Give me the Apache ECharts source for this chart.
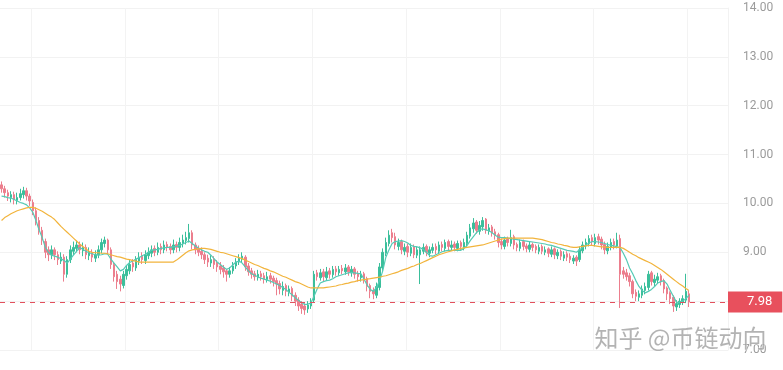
<!DOCTYPE html>
<html><head><meta charset="utf-8">
<script src="https://cdn.jsdelivr.net/npm/echarts@6/dist/echarts.min.js"></script>
<style>html,body{margin:0;padding:0;background:#fff}#c{width:783px;height:370px}</style>
</head><body><div id="c"></div>
<script>
const opens = [10.38,10.30,10.22,10.12,10.18,10.06,10.12,10.18,10.26,10.15,
10.02,9.85,9.65,9.45,9.22,9.05,8.95,9.05,8.95,8.82,
8.90,8.55,8.85,9.02,9.08,9.15,9.03,9.10,8.93,9.00,
8.88,8.95,9.05,9.18,9.25,9.05,8.75,8.55,8.45,8.32,
8.52,8.62,8.78,8.68,8.82,8.92,8.83,8.93,8.98,9.08,
9.00,9.12,9.05,9.16,9.12,9.05,9.16,9.10,9.18,9.24,
9.28,9.40,9.15,9.08,9.02,8.95,8.88,8.78,8.86,8.78,
8.72,8.68,8.62,8.55,8.62,8.72,8.80,8.86,8.90,8.72,
8.62,8.56,8.48,8.56,8.52,8.44,8.52,8.47,8.42,8.36,
8.22,8.32,8.18,8.26,8.12,8.02,7.94,7.90,7.84,7.90,
8.02,8.58,8.48,8.60,8.48,8.62,8.54,8.66,8.58,8.67,
8.60,8.70,8.58,8.66,8.56,8.48,8.56,8.46,8.32,8.22,
8.12,8.28,8.68,8.98,9.18,9.40,9.32,9.12,9.22,9.02,
9.12,8.98,9.12,8.94,8.95,9.02,9.12,8.98,9.04,9.12,
9.02,9.16,9.08,9.22,9.10,9.17,9.08,9.20,9.10,9.18,
9.33,9.48,9.62,9.43,9.52,9.68,9.43,9.52,9.42,9.36,
9.22,9.12,9.27,9.18,9.32,9.16,9.08,9.22,9.13,9.06,
9.16,9.12,9.02,9.12,9.00,9.07,8.96,9.07,8.93,9.02,
8.88,8.97,8.92,8.82,8.90,8.85,9.03,9.13,9.18,9.30,
9.18,9.32,9.27,9.16,9.03,9.10,9.22,9.13,9.28,8.62,
8.58,8.52,8.40,8.18,8.08,8.12,8.22,8.28,8.58,8.38,
8.43,8.52,8.42,8.27,8.17,8.08,7.88,7.93,7.98,8.02,8.15];
const closes = [10.30,10.22,10.15,10.18,10.08,10.12,10.20,10.26,10.15,10.05,
9.85,9.65,9.45,9.25,9.00,8.95,9.05,8.95,8.85,8.90,
8.55,8.85,9.05,9.10,9.15,9.05,9.10,8.95,9.00,8.90,
8.95,9.05,9.20,9.25,9.05,8.75,8.50,8.40,8.35,8.55,
8.65,8.75,8.70,8.85,8.90,8.85,8.95,9.00,9.05,9.00,
9.10,9.05,9.15,9.10,9.05,9.15,9.10,9.20,9.25,9.30,
9.40,9.15,9.05,9.00,8.95,8.85,8.80,8.85,8.75,8.70,
8.65,8.60,8.55,8.62,8.72,8.80,8.88,8.92,8.70,8.60,
8.55,8.50,8.55,8.50,8.45,8.50,8.45,8.40,8.35,8.25,
8.30,8.20,8.25,8.10,8.00,7.90,7.85,7.82,7.92,8.00,
8.55,8.50,8.58,8.50,8.60,8.55,8.65,8.60,8.65,8.62,
8.68,8.60,8.65,8.55,8.50,8.55,8.45,8.30,8.20,8.15,
8.30,8.70,9.00,9.20,9.35,9.30,9.15,9.20,9.05,9.10,
9.00,9.10,8.95,9.05,9.05,9.10,9.00,9.05,9.10,9.05,
9.15,9.10,9.20,9.12,9.15,9.10,9.18,9.12,9.20,9.35,
9.50,9.60,9.45,9.55,9.65,9.45,9.50,9.40,9.35,9.20,
9.15,9.25,9.20,9.30,9.15,9.10,9.20,9.12,9.08,9.15,
9.10,9.05,9.10,9.02,9.05,8.98,9.05,8.95,9.00,8.92,
8.95,8.90,8.85,8.88,8.82,9.05,9.15,9.20,9.28,9.22,
9.30,9.25,9.15,9.05,9.12,9.20,9.15,9.25,8.55,8.55,
8.50,8.40,8.15,8.10,8.15,8.25,8.30,8.55,8.40,8.45,
8.50,8.40,8.25,8.15,8.05,7.90,7.95,8.00,8.05,8.20,7.98];
const lows = [10.22,10.12,10.05,10.02,9.98,9.98,10.06,10.10,10.06,9.95,
9.76,9.55,9.36,9.15,8.88,8.82,8.86,8.84,8.74,8.76,
8.40,8.48,8.78,8.94,9.00,8.96,8.92,8.86,8.84,8.80,
8.80,8.88,8.98,9.10,8.96,8.66,8.40,8.25,8.20,8.26,
8.44,8.55,8.60,8.62,8.74,8.76,8.76,8.86,8.90,8.92,
8.94,8.96,8.98,9.02,8.96,8.98,9.00,9.02,9.10,9.16,
9.20,9.06,8.96,8.92,8.86,8.76,8.70,8.70,8.66,8.60,
8.55,8.48,8.40,8.48,8.56,8.66,8.74,8.80,8.62,8.52,
8.46,8.42,8.42,8.42,8.36,8.38,8.36,8.30,8.12,8.14,
8.12,8.10,8.10,8.00,7.90,7.80,7.74,7.72,7.76,7.84,
7.98,8.42,8.42,8.40,8.42,8.46,8.48,8.52,8.52,8.55,
8.54,8.52,8.50,8.46,8.40,8.40,8.36,8.20,8.06,8.04,
8.06,8.22,8.62,8.92,9.12,9.20,9.06,9.04,8.96,8.94,
8.90,8.92,8.88,8.88,8.35,8.96,8.92,8.90,8.98,8.96,
8.96,9.02,9.02,9.04,9.04,9.02,9.02,9.04,9.04,9.12,
9.28,9.40,9.38,9.36,9.44,9.38,9.36,9.32,9.26,9.10,
9.06,9.06,9.12,9.12,9.06,9.02,9.02,9.04,9.00,9.00,
9.02,8.98,8.96,8.96,8.94,8.90,8.90,8.86,8.86,8.84,
8.82,8.82,8.78,8.76,8.72,8.80,8.98,9.06,9.12,9.14,
9.12,9.16,9.06,8.96,8.96,9.04,9.06,9.08,7.86,8.46,
8.42,8.30,8.06,8.00,8.00,8.06,8.14,8.22,8.32,8.30,
8.36,8.32,8.16,8.02,7.94,7.78,7.80,7.86,7.92,7.96,7.88];
const highs = [10.45,10.36,10.28,10.25,10.24,10.22,10.30,10.34,10.32,10.20,
10.08,9.92,9.72,9.52,9.28,9.12,9.14,9.10,9.02,9.00,
8.96,8.92,9.14,9.22,9.24,9.22,9.20,9.16,9.10,9.06,
9.04,9.14,9.28,9.32,9.28,9.10,8.80,8.62,8.52,8.62,
8.74,8.84,8.86,8.92,9.00,9.00,9.04,9.10,9.14,9.14,
9.20,9.18,9.24,9.22,9.18,9.26,9.22,9.30,9.36,9.42,
9.58,9.45,9.20,9.14,9.10,9.00,8.95,8.94,8.92,8.84,
8.80,8.74,8.66,8.70,8.80,8.88,8.96,9.00,8.94,8.78,
8.68,8.62,8.64,8.62,8.58,8.60,8.58,8.52,8.48,8.42,
8.40,8.36,8.32,8.30,8.18,8.08,8.00,7.96,8.00,8.06,
8.62,8.64,8.66,8.66,8.70,8.68,8.72,8.72,8.72,8.74,
8.76,8.74,8.72,8.70,8.62,8.62,8.60,8.50,8.36,8.28,
8.38,8.78,9.08,9.30,9.45,9.48,9.40,9.28,9.26,9.18,
9.18,9.18,9.16,9.12,9.12,9.18,9.16,9.12,9.18,9.18,
9.22,9.22,9.26,9.26,9.24,9.22,9.24,9.24,9.28,9.42,
9.58,9.70,9.66,9.64,9.72,9.70,9.58,9.56,9.48,9.40,
9.28,9.32,9.32,9.46,9.36,9.20,9.26,9.26,9.18,9.22,
9.20,9.16,9.16,9.16,9.12,9.10,9.12,9.10,9.06,9.06,
9.02,9.02,8.98,8.94,8.94,9.12,9.22,9.28,9.35,9.36,
9.38,9.38,9.32,9.22,9.20,9.28,9.28,9.40,9.36,8.70,
8.66,8.58,8.44,8.24,8.22,8.32,8.38,8.62,8.62,8.54,
8.58,8.56,8.46,8.30,8.20,8.12,8.02,8.06,8.12,8.56,8.22];
const maShort = [10.15,10.14,10.12,10.11,10.08,10.05,10.02,10.00,9.97,9.91,
9.82,9.65,9.46,9.30,9.10,9.00,8.94,8.92,8.90,8.87,
8.83,8.78,8.86,8.94,9.02,9.10,9.06,9.02,8.99,8.97,
8.95,8.94,8.95,8.97,8.96,8.86,8.78,8.70,8.62,8.65,
8.73,8.79,8.82,8.86,8.89,8.93,8.96,9.00,9.04,9.05,
9.06,9.08,9.09,9.10,9.10,9.11,9.12,9.14,9.17,9.20,
9.23,9.18,9.13,9.09,9.05,9.02,9.00,8.94,8.87,8.80,
8.75,8.70,8.65,8.68,8.74,8.80,8.82,8.78,8.70,8.62,
8.56,8.53,8.50,8.47,8.45,8.43,8.41,8.38,8.35,8.32,
8.28,8.24,8.18,8.13,8.07,8.02,7.97,7.93,7.94,7.96,
8.10,8.25,8.37,8.40,8.42,8.43,8.46,8.50,8.52,8.54,
8.56,8.58,8.59,8.58,8.57,8.56,8.45,8.33,8.24,8.20,
8.28,8.42,8.62,8.90,9.05,9.18,9.22,9.23,9.24,9.22,
9.19,9.14,9.12,9.11,9.09,9.06,9.00,8.93,8.92,8.95,
8.98,9.01,9.03,9.04,9.04,9.04,9.04,9.04,9.08,9.14,
9.24,9.32,9.40,9.47,9.48,9.46,9.44,9.40,9.35,9.31,
9.30,9.30,9.29,9.28,9.27,9.26,9.25,9.24,9.23,9.22,
9.21,9.20,9.19,9.18,9.17,9.15,9.14,9.12,9.10,9.08,
9.06,9.04,9.03,9.02,9.00,9.05,9.10,9.15,9.19,9.22,
9.22,9.21,9.20,9.18,9.16,9.14,9.13,9.11,9.09,8.98,
8.85,8.68,8.56,8.42,8.30,8.22,8.17,8.20,8.24,8.30,
8.37,8.40,8.42,8.35,8.22,8.10,7.98,7.97,8.00,8.05,8.12];
const maLong = [9.65,9.71,9.75,9.79,9.82,9.85,9.87,9.89,9.91,9.92,
9.92,9.90,9.87,9.84,9.80,9.76,9.72,9.67,9.60,9.53,
9.47,9.41,9.35,9.29,9.23,9.17,9.12,9.07,9.02,9.00,
8.99,8.99,8.98,8.98,8.97,8.95,8.93,8.91,8.90,8.88,
8.86,8.85,8.83,8.82,8.80,8.80,8.80,8.80,8.80,8.80,
8.80,8.80,8.80,8.80,8.80,8.80,8.84,8.89,8.94,8.99,
9.03,9.05,9.06,9.07,9.08,9.08,9.07,9.06,9.04,9.02,
9.00,8.99,8.97,8.95,8.93,8.91,8.89,8.87,8.84,8.81,
8.78,8.75,8.73,8.70,8.67,8.65,8.62,8.60,8.57,8.54,
8.51,8.49,8.46,8.43,8.40,8.38,8.35,8.32,8.29,8.27,
8.27,8.27,8.27,8.27,8.28,8.29,8.30,8.31,8.33,8.34,
8.36,8.37,8.39,8.40,8.42,8.43,8.44,8.45,8.46,8.47,
8.48,8.49,8.51,8.52,8.54,8.56,8.58,8.60,8.63,8.65,
8.67,8.70,8.72,8.75,8.77,8.80,8.83,8.86,8.89,8.92,
8.95,8.97,8.99,9.01,9.03,9.05,9.06,9.08,9.09,9.10,
9.11,9.12,9.13,9.14,9.15,9.17,9.19,9.21,9.23,9.25,
9.27,9.28,9.29,9.29,9.29,9.29,9.29,9.29,9.29,9.29,
9.29,9.28,9.27,9.26,9.24,9.22,9.20,9.19,9.17,9.16,
9.14,9.13,9.11,9.10,9.10,9.11,9.12,9.13,9.14,9.14,
9.13,9.12,9.11,9.11,9.10,9.10,9.10,9.10,9.10,9.08,
9.04,9.00,8.96,8.93,8.89,8.86,8.83,8.80,8.77,8.73,
8.69,8.65,8.60,8.55,8.50,8.45,8.40,8.35,8.31,8.26,8.22];
const emptySlots = 12;
const lastPrice = 7.98;
const yTicks = {min: 7, max: 14, step: 1};
const watermark = '知乎 @币链动向';

const n = closes.length;
const cats = [];
for (let i = 0; i < n + emptySlots; i++) cats.push(String(i));
const kData = closes.map((c, i) => [opens[i], c, lows[i], highs[i]]);

const chart = echarts.init(document.getElementById('c'));
chart.setOption({
  animation: false,
  backgroundColor: '#fff',
  grid: {left: 0, right: 55, top: 8, bottom: 20},
  xAxis: {
    type: 'category', data: cats, boundaryGap: true,
    axisLine: {show: false}, axisTick: {show: false}, axisLabel: {show: false},
    splitLine: {show: true, interval: function (i) { return i >= 10 && (i - 10) % 30 === 0; },
      lineStyle: {color: '#f3f3f3', width: 1}}
  },
  yAxis: {
    type: 'value', position: 'right', min: yTicks.min, max: yTicks.max, interval: yTicks.step, scale: true,
    axisLine: {show: true, lineStyle: {color: '#f2f2f2'}}, axisTick: {show: false},
    axisLabel: {color: '#9b9b9b', fontSize: 12, fontFamily: 'Roboto', margin: 15,
      formatter: v => v.toFixed(2)},
    splitLine: {lineStyle: {color: '#f2f2f2'}}
  },
  series: [
    {type: 'candlestick', data: kData, barWidth: 2,
      itemStyle: {color: '#3bbf9b', color0: '#ec7e8d', borderColor: '#3bbf9b', borderColor0: '#ec7e8d', borderWidth: 1},
      markLine: {silent: true, symbol: ['none', 'none'],
        lineStyle: {type: [5, 5], color: '#e2505d', width: 1},
        label: {position: 'end', distance: 0, formatter: lastPrice.toFixed(2), color: '#fff',
          backgroundColor: '#e8505d', fontSize: 13, fontFamily: 'Roboto', padding: [4, 10, 4, 19]},
        data: [{yAxis: lastPrice}]}
    },
    {type: 'line', data: maShort, showSymbol: false, smooth: false,
      lineStyle: {color: '#55cab5', width: 1.2}, z: 3},
    {type: 'line', data: maLong, showSymbol: false, smooth: false,
      lineStyle: {color: '#f2b43c', width: 1.2}, z: 3}
  ],
  graphic: [{type: 'text', right: 16, top: 325, z: 100,
    style: {text: watermark, fontSize: 24, fontFamily: 'Noto Sans CJK SC', fill: 'rgba(160,160,160,0.8)',
      stroke: 'rgba(255,255,255,0.6)', lineWidth: 1}}]
});
</script></body></html>
